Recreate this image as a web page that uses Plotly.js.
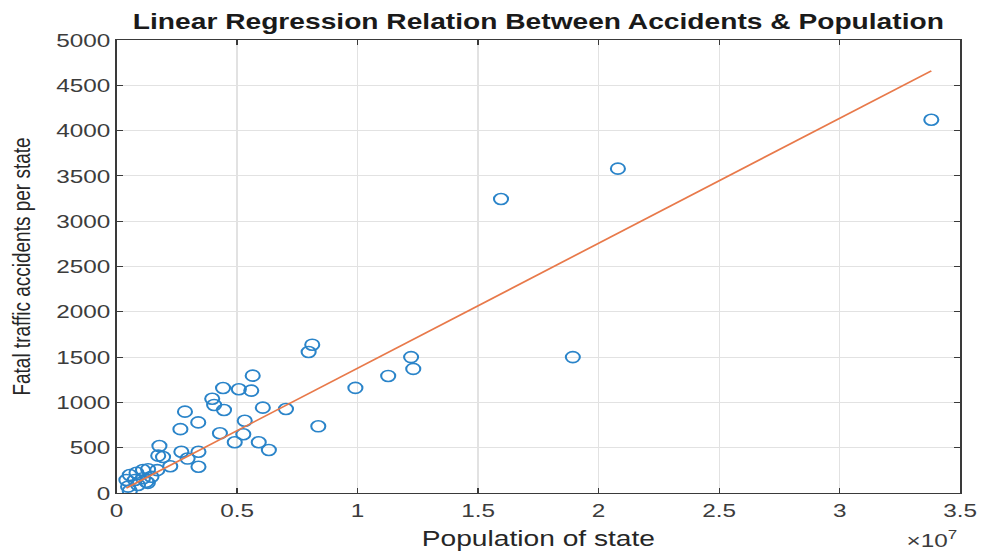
<!DOCTYPE html>
<html>
<head>
<meta charset="utf-8">
<script src="https://cdn.plot.ly/plotly-3.0.1.min.js"></script>
<style>
  html, body { margin: 0; padding: 0; background: #fff; overflow: hidden; }
  #wrap { width: 982px; height: 552px; overflow: hidden; }
  #chart { width: 767px; height: 552px; transform: scaleX(1.2803); transform-origin: 0 0; }
</style>
</head>
<body>
<div id="wrap"><div id="chart"></div></div>
<script>
// Population of each state (people) and fatal traffic accidents
const population = [
  33800000, 20800000, 15950000, 18930000, 12220000, 12310000, 11270000, 9910000,
  8370000, 8120000, 7970000, 7030000, 6320000, 6070000, 5900000, 5650000,
  5590000, 5320000, 5260000, 5075000, 4905000, 4420000, 4460000, 4050000,
  3970000, 4290000, 3390000, 3400000, 3400000, 2840000, 2650000, 2690000,
  2950000, 2230000, 1930000, 1780000, 1730000, 1690000, 1310000, 1100000,
  830000, 550000, 1450000, 1100000, 760000, 410000, 1240000, 890000,
  480000, 550000, 1300000
];
const accidents = [
  4120, 3580, 3245, 1500, 1500, 1370, 1292, 1160,
  736, 1637, 1556, 927, 475, 942, 560, 1295,
  1130, 797, 648, 1145, 560, 1159, 916, 972,
  1040, 659, 779, 455, 290, 898, 705, 455,
  380, 295, 397, 519, 412, 252, 262, 254,
  224, 199, 180, 162, 144, 144, 125, 88,
  70, 25, 112
];
// Fitted regression line, end points
const fitPopulation = [410000, 33800000];
const fitAccidents = [55, 4660];

const xTickVals = [0, 5000000, 10000000, 15000000, 20000000, 25000000, 30000000, 35000000];
const xTickText = ['0', '0.5', '1', '1.5', '2', '2.5', '3', '3.5'];
const yTickVals = [0, 500, 1000, 1500, 2000, 2500, 3000, 3500, 4000, 4500, 5000];

const FONT = '"Liberation Sans", Arial, Helvetica, sans-serif';

const traces = [
  {
    type: 'scatter', mode: 'markers',
    x: population, y: accidents,
    marker: { symbol: 'circle-open', size: 11, color: '#2a84c9', line: { width: 1.6, color: '#2a84c9' } },
    hoverinfo: 'x+y', showlegend: false
  },
  {
    type: 'scatter', mode: 'lines',
    x: fitPopulation, y: fitAccidents,
    line: { color: '#e8794a', width: 1.6 },
    hoverinfo: 'skip', showlegend: false
  }
];

const axisCommon = {
  showline: true, linecolor: '#3a3a3a', linewidth: 1,
  mirror: 'ticks', ticks: 'inside', ticklen: 5, tickcolor: '#3a3a3a', tickwidth: 1,
  showgrid: true, gridcolor: '#e2e2e2', gridwidth: 1,
  zeroline: false,
  tickfont: { family: FONT, size: 19, color: '#3c3c3c' }
};

const layout = {
  width: 767, height: 552,
  margin: { l: 91, r: 17, t: 40, b: 59, pad: 0 },
  paper_bgcolor: '#ffffff', plot_bgcolor: '#ffffff',
  title: {
    text: '<b>Linear Regression Relation Between Accidents &amp; Population</b>',
    font: { family: FONT, size: 22, color: '#1a1a1a' },
    x: 0.5, xref: 'paper', xanchor: 'center',
    y: 0.962, yref: 'container', yanchor: 'middle'
  },
  xaxis: Object.assign({}, axisCommon, {
    range: [0, 35000000], tickmode: 'array', tickvals: xTickVals, ticktext: xTickText,
    title: { text: 'Population of state', font: { family: FONT, size: 22, color: '#262626' }, standoff: 10 }
  }),
  yaxis: Object.assign({}, axisCommon, {
    range: [0, 5000], tickmode: 'array', tickvals: yTickVals,
    title: { text: 'Fatal traffic accidents per state', font: { family: FONT, size: 19, color: '#262626' }, standoff: 14 }
  }),
  annotations: [{
    text: '×10<sup>7</sup>', xref: 'paper', yref: 'paper', x: 1.0, y: -0.102,
    xanchor: 'right', yanchor: 'middle', showarrow: false,
    font: { family: FONT, size: 19, color: '#3c3c3c' }
  }]
};

Plotly.newPlot('chart', traces, layout, { staticPlot: true, displayModeBar: false });
</script>
</body>
</html>
